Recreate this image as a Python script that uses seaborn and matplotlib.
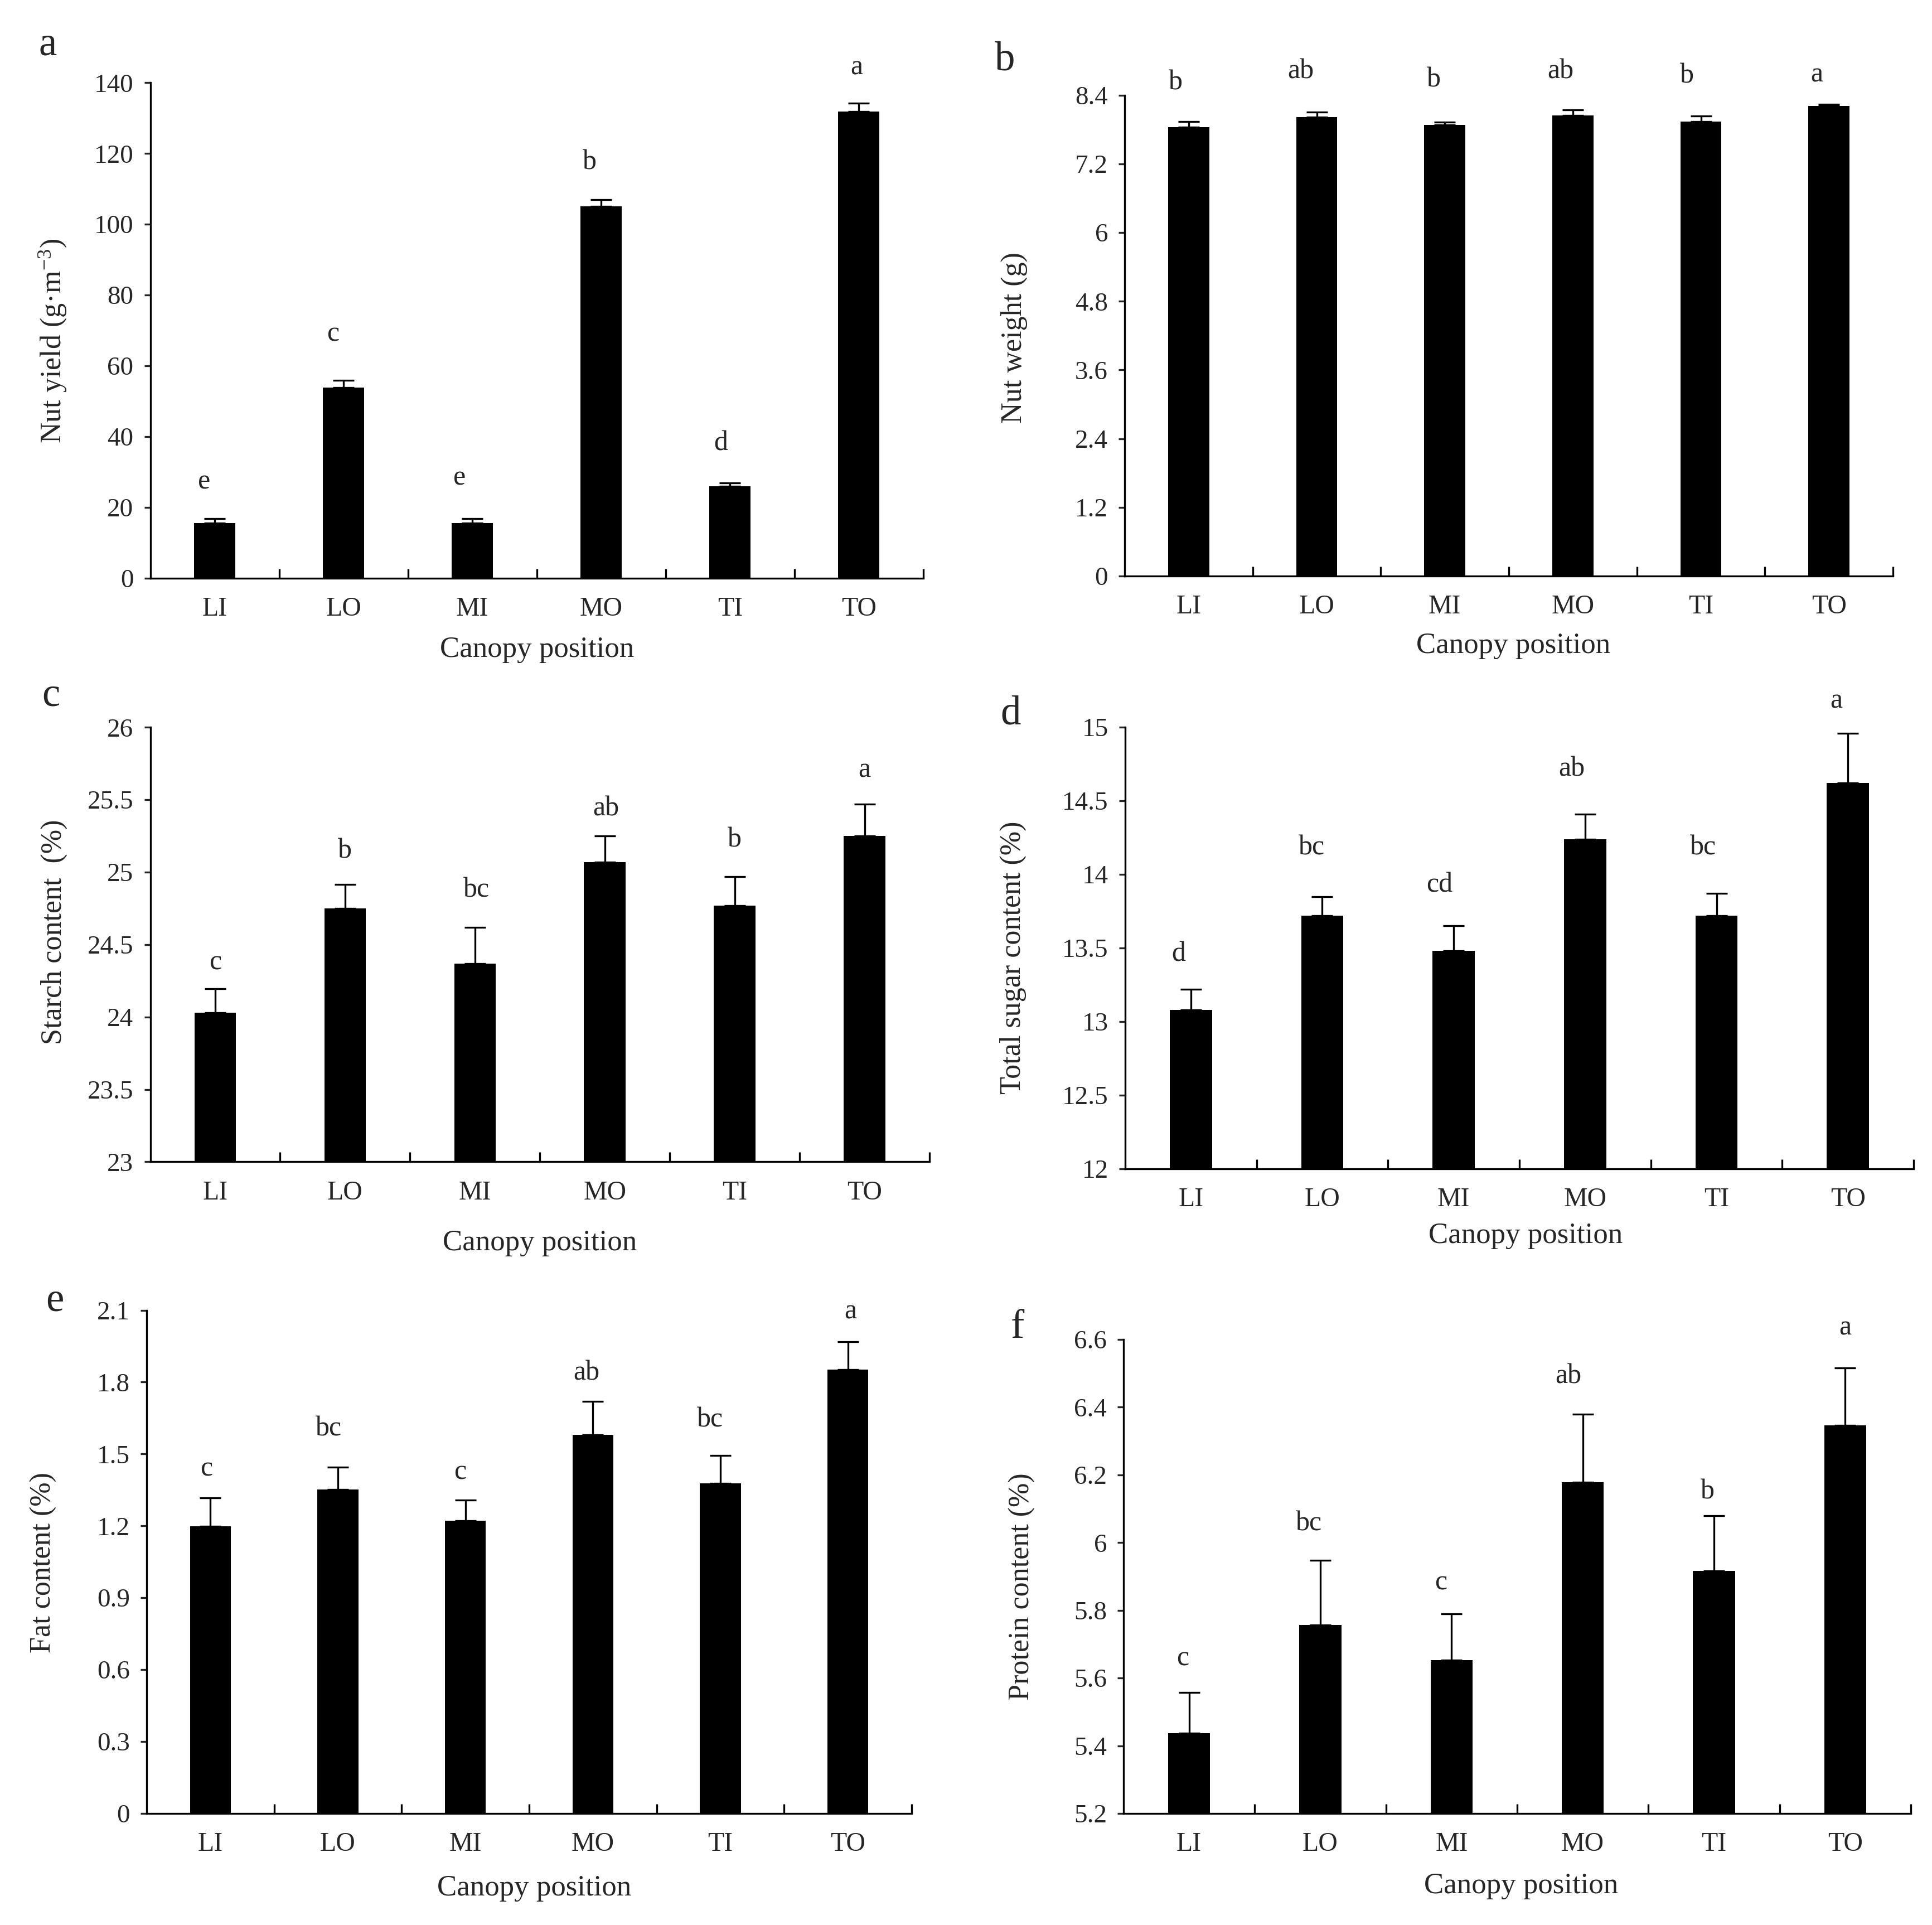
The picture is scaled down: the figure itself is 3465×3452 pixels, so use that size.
import numpy as np
import pandas as pd
import matplotlib
matplotlib.use("Agg")
import matplotlib.pyplot as plt
import seaborn as sns

# ---------------- data ----------------
positions = ["LI", "LO", "MI", "MO", "TI", "TO"]

nut_yield = [15.5, 53.8, 15.5, 105.0, 25.9, 131.9]
nut_yield_err = [1.3, 2.1, 1.3, 1.9, 1.0, 2.4]
nut_yield_sig = ["e", "c", "e", "b", "d", "a"]
nut_yield_sig_y = [25.2, 67.0, 26.4, 115.5, 36.1, 142.4]

nut_weight = [7.84, 8.02, 7.88, 8.05, 7.94, 8.21]
nut_weight_err = [0.10, 0.09, 0.05, 0.09, 0.10, 0.03]
nut_weight_sig = ["b", "ab", "b", "ab", "b", "a"]
nut_weight_sig_y = [8.50, 8.70, 8.55, 8.70, 8.62, 8.64]

starch = [24.03, 24.75, 24.37, 25.07, 24.77, 25.25]
starch_err = [0.165, 0.165, 0.25, 0.18, 0.20, 0.22]
starch_sig = ["c", "b", "bc", "ab", "b", "a"]
starch_sig_y = [24.33, 25.10, 24.83, 25.39, 25.175, 25.655]

sugar = [13.08, 13.72, 13.48, 14.24, 13.72, 14.62]
sugar_err = [0.14, 0.13, 0.17, 0.17, 0.15, 0.34]
sugar_sig = ["d", "bc", "cd", "ab", "bc", "a"]
sugar_sig_y = [13.41, 14.135, 13.88, 14.67, 14.135, 15.13]

fat = [1.198, 1.351, 1.222, 1.579, 1.378, 1.853]
fat_err = [0.12, 0.095, 0.085, 0.14, 0.115, 0.115]
fat_sig = ["c", "bc", "c", "ab", "bc", "a"]
fat_sig_y = [1.41, 1.576, 1.394, 1.808, 1.614, 2.064]

protein = [5.437, 5.757, 5.653, 6.179, 5.917, 6.346]
protein_err = [0.12, 0.19, 0.136, 0.20, 0.163, 0.17]
protein_sig = ["c", "bc", "c", "ab", "b", "a"]
protein_sig_y = [5.637, 6.036, 5.862, 6.47, 6.129, 6.614]

ticks_a = [0, 20, 40, 60, 80, 100, 120, 140]
ticks_b = [0, 1.2, 2.4, 3.6, 4.8, 6, 7.2, 8.4]
ticks_c = [23, 23.5, 24, 24.5, 25, 25.5, 26]
ticks_d = [12, 12.5, 13, 13.5, 14, 14.5, 15]
ticks_e = [0, 0.3, 0.6, 0.9, 1.2, 1.5, 1.8, 2.1]
ticks_f = [5.2, 5.4, 5.6, 5.8, 6, 6.2, 6.4, 6.6]

ylabel_a = "Nut yield (g·m$^{-3}$)"
ylabel_b = "Nut weight (g)"
ylabel_c = "Starch content  (%)"
ylabel_d = "Total sugar content (%)"
ylabel_e = "Fat content (%)"
ylabel_f = "Protein content (%)"
xlabel = "Canopy position"
panel_letters = ["a", "b", "c", "d", "e", "f"]

# ---------------- style ----------------
sns.set_style("ticks")
plt.rcParams["font.family"] = ["Liberation Serif", "DejaVu Serif"]
plt.rcParams["mathtext.fontset"] = "custom"
plt.rcParams["mathtext.rm"] = "Liberation Serif"
plt.rcParams["mathtext.it"] = "Liberation Serif:italic"
plt.rcParams["mathtext.bf"] = "Liberation Serif:bold"
plt.rcParams["axes.linewidth"] = 0.8

W, H = 3465, 3452
fig = plt.figure(figsize=(W / 300, H / 300), dpi=300)

# layout: (left, top, right, bottom) px, ylabel (x offset px, y frac), xlabel (offset px, x frac), letter (x, y) px, sig dx
layouts = [
    dict(box=(269.5, 148.4, 1656, 1036.7), yl=(175, 0.479), xl=(128, 0.50), let=(86, 81),
         sdx=[-0.08, -0.08, -0.10, -0.09, -0.07, -0.02]),
    dict(box=(2017, 170.8, 3395, 1033), yl=(198, 0.496), xl=(125, 0.506), let=(1802, 108),
         sdx=[-0.10, -0.126, -0.087, -0.097, -0.11, -0.097]),
    dict(box=(269.5, 1304.4, 1667, 2083.4), yl=(173, 0.529), xl=(146, 0.50), let=(91, 1248),
         sdx=[0, 0, 0.01, 0.01, 0, 0]),
    dict(box=(2018, 1304, 3432, 2096), yl=(201, 0.478), xl=(120, 0.508), let=(1813, 1281),
         sdx=[-0.094, -0.08, -0.11, -0.10, -0.10, -0.09]),
    dict(box=(263, 2349.5, 1635, 3252), yl=(185, 0.499), xl=(134, 0.507), let=(98, 2333),
         sdx=[-0.03, -0.07, -0.04, -0.05, -0.08, 0.02]),
    dict(box=(2015, 2402, 3427, 3252), yl=(182, 0.479), xl=(130, 0.505), let=(1825, 2381),
         sdx=[-0.05, -0.085, -0.08, -0.11, -0.05, 0.0]),
]

panels = [
    (nut_yield, nut_yield_err, nut_yield_sig, nut_yield_sig_y, ticks_a, ylabel_a),
    (nut_weight, nut_weight_err, nut_weight_sig, nut_weight_sig_y, ticks_b, ylabel_b),
    (starch, starch_err, starch_sig, starch_sig_y, ticks_c, ylabel_c),
    (sugar, sugar_err, sugar_sig, sugar_sig_y, ticks_d, ylabel_d),
    (fat, fat_err, fat_sig, fat_sig_y, ticks_e, ylabel_e),
    (protein, protein_err, protein_sig, protein_sig_y, ticks_f, ylabel_f),
]

for (vals, errs, sig, sig_y, ticks, ylab), lay, letter in zip(panels, layouts, panel_letters):
    l, t, r, b = lay["box"]
    ax = fig.add_axes([l / W, 1 - b / H, (r - l) / W, (b - t) / H])
    df = pd.DataFrame({"position": positions, "value": vals})
    sns.barplot(data=df, x="position", y="value", color="black", width=0.32,
                saturation=1, errorbar=None, linewidth=0, ax=ax)
    x = np.arange(len(positions))
    ax.errorbar(x, vals, yerr=[np.zeros(len(errs)), errs], fmt="none",
                ecolor="black", elinewidth=0.8, capsize=4.5, capthick=0.8, zorder=3)
    for xi, (s, sy, dx) in enumerate(zip(sig, sig_y, lay["sdx"])):
        ax.text(xi + dx, sy, s, ha="center", va="baseline", fontsize=12, clip_on=False)

    ax.set_xlim(-0.5, len(positions) - 0.5)
    ax.set_ylim(ticks[0], ticks[-1])
    ax.set_yticks(ticks)
    ax.set_yticklabels([f"{v:g}" for v in ticks])
    ax.set_xticks(np.arange(0.5, len(positions), 1), minor=True)
    ax.tick_params(axis="x", which="major", length=0, pad=8, labelsize=11.5)
    ax.tick_params(axis="x", which="minor", direction="in", length=4, width=0.8, color="black")
    ax.tick_params(axis="y", which="major", direction="out", length=2.7, width=0.8,
                   pad=4.5, labelsize=11.3)
    sns.despine(ax=ax)
    for sp in ("left", "bottom"):
        ax.spines[sp].set_color("black")
        ax.spines[sp].set_linewidth(0.8)

    ax.set_ylabel(ylab, fontsize=12.5)
    ax.yaxis.label.set_verticalalignment("center")
    ax.yaxis.set_label_coords(-lay["yl"][0] / (r - l), lay["yl"][1])
    ax.set_xlabel(xlabel, fontsize=12.7)
    ax.xaxis.label.set_verticalalignment("center")
    ax.xaxis.set_label_coords(lay["xl"][1], -lay["xl"][0] / (b - t))

    fig.text(lay["let"][0] / W, 1 - lay["let"][1] / H, letter, ha="center", va="center",
             fontsize=17.5)

fig.savefig("out.png", dpi=300, facecolor="white")
